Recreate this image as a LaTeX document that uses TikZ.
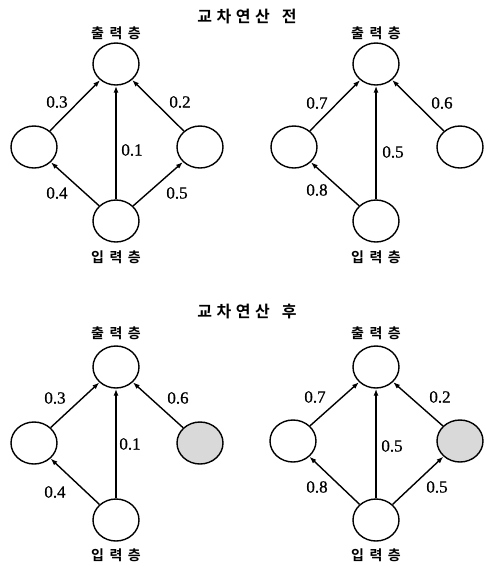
\documentclass[tikz,border=0pt]{standalone}
\usepackage{fontspec}
\setmainfont{Liberation Serif}
\newfontfamily\numf{Liberation Serif}[FakeBold=0.8]
\newfontfamily\kr{Noto Sans CJK KR}[BoldFont={Noto Sans CJK KR Bold}]
\usetikzlibrary{arrows.meta,shapes.geometric}
\newcommand\kgap{\hspace{5.5pt}}
\newcommand\tgap{\hspace{4.5pt}}
\begin{document}
\begin{tikzpicture}[x=1pt,y=-1pt,
 neuron/.style={ellipse, draw, line width=1.4pt, minimum width=46pt, minimum height=42pt, inner sep=0pt},
 shadednode/.style={neuron, fill=black!15},
 link/.style={line width=1.4pt, -{Latex[length=7pt,width=5pt]}},
 wt/.style={font=\numf\fontsize{17}{17}\selectfont, inner sep=0pt},
 layer/.style={font=\kr\bfseries\fontsize{14}{14}\selectfont, inner sep=0pt},
 ttl/.style={font=\kr\bfseries\fontsize{16}{16}\selectfont, inner sep=0pt}]
\useasboundingbox (0,0) rectangle (485,565);

% titles
\node[ttl] (t1) at (247,17) {교\tgap 차\tgap 연\tgap 산\hspace{12pt}전};
\node[ttl] (t2) at (247,312) {교\tgap 차\tgap 연\tgap 산\hspace{12pt}후};

% ---------- top left ----------
\node[neuron] (O1) at (116,64) {};
\node[neuron] (L1) at (34,147) {};
\node[neuron] (R1) at (200,147) {};
\node[neuron] (I1) at (116,221) {};
\node[layer] (o1t) at (116,33) {출\kgap 력\kgap 층};
\node[layer] (i1t) at (116,257) {입\kgap 력\kgap 층};
\draw[link] (L1) -- (O1);
\draw[link] (R1) -- (O1);
\draw[link] (I1) -- (O1);
\draw[link] (I1) -- (L1);
\draw[link] (I1) -- (R1);
\node[wt] (w11) at (57,102) {0.3};
\node[wt] (w12) at (180,102) {0.2};
\node[wt] (w13) at (132,150) {0.1};
\node[wt] (w14) at (57,193) {0.4};
\node[wt] (w15) at (177,193) {0.5};

% ---------- top right ----------
\node[neuron] (O2) at (376,64) {};
\node[neuron] (L2) at (294,147) {};
\node[neuron] (R2) at (460,147) {};
\node[neuron] (I2) at (376,221) {};
\node[layer] (o2t) at (376,33) {출\kgap 력\kgap 층};
\node[layer] (i2t) at (376,257) {입\kgap 력\kgap 층};
\draw[link] (L2) -- (O2);
\draw[link] (R2) -- (O2);
\draw[link] (I2) -- (O2);
\draw[link] (I2) -- (L2);
\node[wt] (w21) at (317,103) {0.7};
\node[wt] (w22) at (442,103) {0.6};
\node[wt] (w23) at (393,152) {0.5};
\node[wt] (w24) at (317,190) {0.8};

% ---------- bottom left ----------
\node[neuron] (O3) at (116,367) {};
\node[neuron] (L3) at (34,443) {};
\node[shadednode] (R3) at (200,443) {};
\node[neuron] (I3) at (116,520) {};
\node[layer] (o3t) at (116,333) {출\kgap 력\kgap 층};
\node[layer] (i3t) at (116,555) {입\kgap 력\kgap 층};
\draw[link] (L3) -- (O3);
\draw[link] (R3) -- (O3);
\draw[link] (I3) -- (O3);
\draw[link] (I3) -- (L3);
\node[wt] (w31) at (55,398) {0.3};
\node[wt] (w32) at (178,398) {0.6};
\node[wt] (w33) at (130,444) {0.1};
\node[wt] (w34) at (55,492) {0.4};

% ---------- bottom right ----------
\node[neuron] (O4) at (376,367) {};
\node[neuron] (L4) at (293,441) {};
\node[shadednode] (R4) at (460,441) {};
\node[neuron] (I4) at (376,520) {};
\node[layer] (o4t) at (376,333) {출\kgap 력\kgap 층};
\node[layer] (i4t) at (376,555) {입\kgap 력\kgap 층};
\draw[link] (L4) -- (O4);
\draw[link] (R4) -- (O4);
\draw[link] (I4) -- (O4);
\draw[link] (I4) -- (L4);
\draw[link] (I4) -- (R4);
\node[wt] (w41) at (315,397) {0.7};
\node[wt] (w42) at (440,397) {0.2};
\node[wt] (w43) at (392,446) {0.5};
\node[wt] (w44) at (317,487) {0.8};
\node[wt] (w45) at (437,487) {0.5};
\end{tikzpicture}
\end{document}
